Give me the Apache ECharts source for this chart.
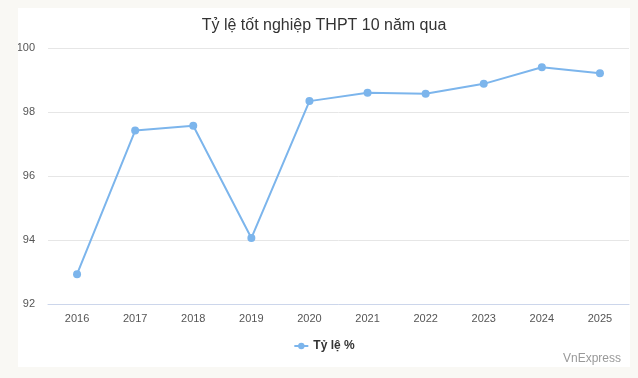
<!DOCTYPE html>
<html>
<head>
<meta charset="utf-8">
<script src="https://cdn.jsdelivr.net/npm/echarts@6/dist/echarts.min.js"></script>
<style>
  html, body { margin: 0; padding: 0; background: #f9f8f4; }
  #chart {
    position: absolute;
    left: 18px;
    top: 8px;
    width: 612px;
    height: 359px;
    background: #fff;
  }
</style>
</head>
<body>
<div id="chart"></div>
<script>
// dữ liệu
const years = ['2016', '2017', '2018', '2019', '2020', '2021', '2022', '2023', '2024', '2025']
const passRate = [92.93, 97.42, 97.57, 94.06, 98.34, 98.60, 98.57, 98.88, 99.40, 99.21]
const yTicks = { min: 92, max: 100, step: 2 }

const chart = echarts.init(document.getElementById('chart'))
const font = 'Liberation Sans, Arial, sans-serif'

const option = {
  textStyle: { fontFamily: font },
  title: [
    {
      text: 'Tỷ lệ tốt nghiệp THPT 10 năm qua',
      left: 'center',
      top: 5,
      textStyle: { color: '#333', fontSize: 16, fontWeight: 'normal', fontFamily: font }
    },
    {
      text: 'VnExpress',
      right: 4,
      top: 340,
      textStyle: { color: '#999', fontSize: 12, fontWeight: 'normal', fontFamily: font }
    }
  ],
  grid: { left: 30, right: 1, top: 40, bottom: 63, outerBoundsMode: 'none' },
  legend: {
    left: 'center',
    top: 327,
    itemWidth: 14,
    itemHeight: 8,
    itemGap: 4,
    textStyle: { color: '#333', fontSize: 12, fontWeight: 'bold', fontFamily: font },
    data: ['Tỷ lệ %']
  },
  tooltip: { trigger: 'axis' },
  xAxis: {
    type: 'category',
    data: years,
    boundaryGap: true,
    axisLine: { show: true, lineStyle: { color: '#ccd6eb' } },
    axisTick: { show: false },
    axisLabel: { color: '#555', fontSize: 11, margin: 9, fontFamily: font }
  },
  yAxis: {
    type: 'value',
    min: yTicks.min,
    max: yTicks.max,
    interval: yTicks.step,
    axisLine: { show: false },
    axisTick: { show: false },
    axisLabel: { color: '#555', fontSize: 11, margin: 13, fontFamily: font },
    splitLine: { lineStyle: { color: '#e6e6e6' } }
  },
  series: [
    {
      name: 'Tỷ lệ %',
      type: 'line',
      data: passRate,
      symbol: 'circle',
      symbolSize: 8,
      lineStyle: { color: '#7cb5ec', width: 2 },
      itemStyle: { color: '#7cb5ec' }
    }
  ]
}

chart.setOption(option)
window.addEventListener('resize', function () {
  chart.resize()
})
</script>
</body>
</html>
